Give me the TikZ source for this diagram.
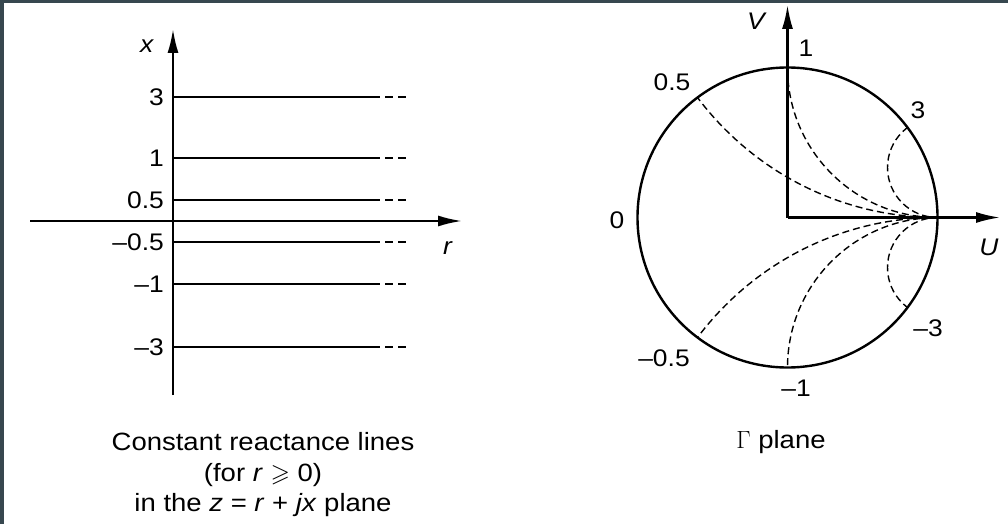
\documentclass[tikz,border=0pt]{standalone}
\usepackage{fontspec}
\usepackage{amssymb}
\setmainfont[FakeStretch=1.1]{Liberation Sans}
\usetikzlibrary{arrows.meta}
\definecolor{framecol}{HTML}{37474F}
\tikzset{
  axisline/.style={line width=2.2pt, -{Latex[length=24pt,width=11pt]}},
  reactline/.style={line width=2.2pt},
  reactdash/.style={line width=2.2pt, dash pattern=on 8pt off 5pt},
  gammadash/.style={line width=1.4pt, dash pattern=on 7pt off 4pt},
  unitcirc/.style={line width=2.4pt},
  lbl/.style={font=\fontsize{24}{28}\selectfont, inner sep=0pt},
  capt/.style={font=\fontsize{25}{30}\selectfont, inner sep=0pt, align=center},
}
\begin{document}
\begin{tikzpicture}[x=1pt,y=-1pt]
\useasboundingbox (0,0) rectangle (1008,524);
\fill[white] (0,0) rectangle (1008,524);
\fill[framecol] (0,0) rectangle (1008,3);
\fill[framecol] (0,0) rectangle (4,524);

% ---------- left: z plane ----------
\coordinate (xb) at (173,395);
\coordinate (xt) at (173,29);
\coordinate (rl) at (30,221);
\coordinate (rt) at (462,221);
\draw[axisline] (rl) -- (rt);
\draw[axisline] (xb) -- (xt);
\foreach \y/\t/\n in {97/3/a, 158/1/b, 200/0.5/c, 242/--0.5/d, 284/--1/e, 347/--3/f}{
  \coordinate (s\n) at (173,\y);
  \coordinate (m\n) at (372,\y);
  \coordinate (e\n) at (410,\y);
  \draw[reactline] (s\n) -- (m\n);
  \draw[reactdash] (m\n) -- (e\n);
  \node[lbl, anchor=east] (l\n) at (164,\y) {\t};
}
\node[lbl] (xlab) at (147,46) {\textit{x}};
\node[lbl] (rlab) at (448,248) {\textit{r}};
\node[capt, anchor=base] (cap1) at (263,450) {Constant reactance lines};
\node[capt, anchor=base] (cap2) at (263,481) {(for \textit{r} $\geqslant$ 0)};
\node[capt, anchor=base] (cap3) at (263,511) {in the \textit{z} = \textit{r} + \textit{jx} plane};

% ---------- right: Gamma plane ----------
\coordinate (O) at (787.5,217.5);
\coordinate (Vt) at (787.5,5);
\coordinate (Ut) at (1000,217.5);
\begin{scope}
  \clip (O) circle[radius=150pt];
  \draw[gammadash] (937.5,167.5) circle[radius=50pt];
  \draw[gammadash] (937.5,67.5) circle[radius=150pt];
  \draw[gammadash] (937.5,-82.5) circle[radius=300pt];
  \draw[gammadash] (937.5,517.5) circle[radius=300pt];
  \draw[gammadash] (937.5,367.5) circle[radius=150pt];
  \draw[gammadash] (937.5,267.5) circle[radius=50pt];
\end{scope}
\draw[unitcirc] (O) circle[radius=150pt];
\draw[axisline] (O) -- (Vt);
\draw[axisline] (O) -- (Ut);
\node[lbl] (Vlab) at (757,21) {\textit{V}};
\node[lbl] (Ulab) at (989,247) {\textit{U}};
\node[lbl] (g1) at (806,48) {1};
\node[lbl] (g05) at (672,82) {0.5};
\node[lbl] (g3) at (918,110) {3};
\node[lbl] (g0) at (617,220) {0};
\node[lbl] (gm3) at (928,328) {--3};
\node[lbl] (gm05) at (664,358) {--0.5};
\node[lbl] (gm1) at (796,388) {--1};
\node[capt, anchor=base] (gcap) at (781,448) {$\Gamma$ plane};
\end{tikzpicture}
\end{document}
